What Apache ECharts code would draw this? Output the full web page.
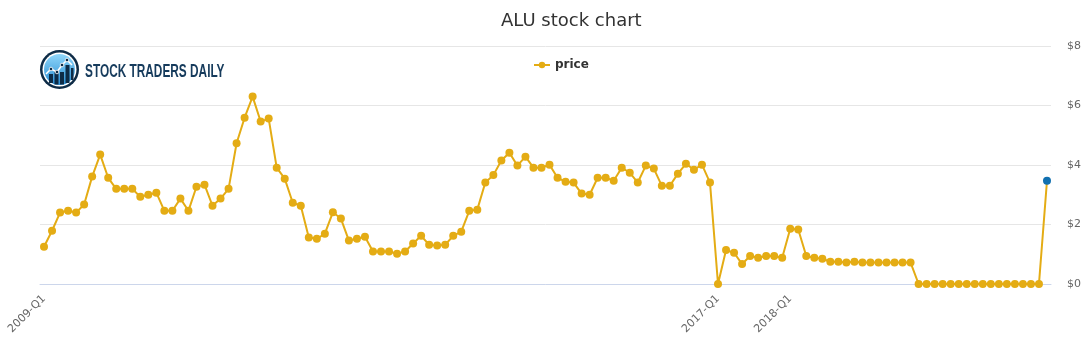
<!DOCTYPE html>
<html>
<head>
<meta charset="utf-8">
<script src="https://cdn.jsdelivr.net/npm/echarts@6/dist/echarts.min.js"></script>
<style>
html,body{margin:0;padding:0;background:#fff;}
#chart{width:1091px;height:350px;}
</style>
</head>
<body>
<div id="chart"></div>
<script>
// price series (USD), one value per period
const price = [
  1.25, 1.79, 2.40, 2.46, 2.40, 2.67, 3.61, 4.35, 3.57, 3.20,
  3.20, 3.20, 2.93, 3.00, 3.07, 2.46, 2.46, 2.87, 2.46, 3.27,
  3.34, 2.63, 2.87, 3.20, 4.73, 5.59, 6.30, 5.46, 5.56, 3.91,
  3.54, 2.73, 2.63,
  1.56, 1.52, 1.69, 2.41, 2.20, 1.46, 1.52, 1.59, 1.09, 1.09,
  1.09, 1.02, 1.09, 1.36, 1.62, 1.32, 1.29, 1.32, 1.62, 1.76,
  2.46, 2.50, 3.41, 3.66, 4.15, 4.41, 3.98, 4.28, 3.91, 3.91,
  4.01, 3.57, 3.44, 3.41, 3.04, 3.00, 3.57, 3.57, 3.47, 3.91,
  3.74, 3.41, 3.98, 3.88, 3.30, 3.30, 3.71, 4.04, 3.84, 4.01,
  3.41,
  0, 1.14, 1.05, 0.67, 0.94, 0.88, 0.94, 0.94, 0.88, 1.86,
  1.83, 0.94, 0.88, 0.85, 0.75, 0.75, 0.72, 0.75, 0.72, 0.72,
  0.72, 0.72, 0.72, 0.72, 0.72,
  0, 0, 0, 0, 0, 0, 0, 0, 0, 0, 0, 0, 0, 0, 0, 0,
  3.47
];
// labelled x ticks and the period index they sit on
const tickLabels = ['2009-Q1', '2017-Q1', '2018-Q1'];
const tickIndex = [0, 84, 93];
// y axis ticks
const yTicks = [0, 2, 4, 6, 8];

const categories = price.map((_, i) => {
  const k = tickIndex.indexOf(i);
  return k >= 0 ? tickLabels[k] : 'p' + i;
});

const lineColor = '#e4ac14';
const lastColor = '#1170b0';
const seriesData = price.map((v, i) => i === price.length - 1
  ? { value: v, itemStyle: { color: lastColor } }
  : v);

const chart = echarts.init(document.getElementById('chart'), null, { renderer: 'canvas' });

const logo = {
  type: 'group',
  left: 40, top: 50,
  children: [
    { type: 'circle', shape: { cx: 19.5, cy: 19.5, r: 19.5 }, style: { fill: '#0d2b46' } },
    { type: 'circle', shape: { cx: 19.5, cy: 19.5, r: 17 }, style: { fill: '#ffffff' } },
    { type: 'circle', shape: { cx: 19.5, cy: 19.5, r: 15.5 },
      style: { fill: new echarts.graphic.LinearGradient(0, 0, 0, 1, [
        { offset: 0, color: '#8fd6fa' }, { offset: 1, color: '#2a8ed3' }]) } },
    { type: 'rect', shape: { x: 9, y: 24, width: 4, height: 9 }, style: { fill: '#0d2b46' } },
    { type: 'rect', shape: { x: 14.5, y: 20, width: 4, height: 14.5 }, style: { fill: '#0d2b46' } },
    { type: 'rect', shape: { x: 20, y: 22, width: 4, height: 12.5 }, style: { fill: '#0d2b46' } },
    { type: 'rect', shape: { x: 25.5, y: 15, width: 4, height: 18 }, style: { fill: '#0d2b46' } },
    { type: 'rect', shape: { x: 31, y: 18, width: 2.5, height: 12 }, style: { fill: '#0d2b46' } },
    { type: 'polyline', shape: { points: [[6, 24], [11, 19], [17, 22], [22, 15], [27, 10], [32, 15]] },
      style: { stroke: '#ffffff', lineWidth: 1.5, fill: null } },
    { type: 'circle', shape: { cx: 11, cy: 19, r: 1.8 }, style: { fill: '#0d2b46', stroke: '#fff', lineWidth: 0.8 } },
    { type: 'circle', shape: { cx: 17, cy: 22, r: 1.8 }, style: { fill: '#0d2b46', stroke: '#fff', lineWidth: 0.8 } },
    { type: 'circle', shape: { cx: 22, cy: 15, r: 1.8 }, style: { fill: '#0d2b46', stroke: '#fff', lineWidth: 0.8 } },
    { type: 'circle', shape: { cx: 27, cy: 10, r: 1.8 }, style: { fill: '#0d2b46', stroke: '#fff', lineWidth: 0.8 } }
  ]
};

const logoText = {
  type: 'text',
  x: 85, y: 71.5,
  scaleX: 0.64,
  originX: 0,
  style: {
    text: 'STOCK TRADERS DAILY',
    font: 'bold 18.5px "Liberation Sans", Arial, sans-serif',
    fill: '#163b5c',
    verticalAlign: 'middle'
  }
};

chart.setOption({
  animation: false,
  textStyle: { fontFamily: '"DejaVu Sans", sans-serif' },
  title: {
    text: 'ALU stock chart',
    left: 501, top: 12,
    padding: 0,
    textStyle: { fontFamily: '"DejaVu Sans", sans-serif', fontSize: 18, fontWeight: 'normal', color: '#333333' }
  },
  legend: {
    left: 533, top: 59,
    padding: 0,
    itemWidth: 16, itemHeight: 8,
    data: ['price'],
    textStyle: { fontFamily: '"DejaVu Sans", sans-serif', fontSize: 12, fontWeight: 'bold', color: '#333333' }
  },
  graphic: [logo, logoText],
  grid: { left: 40, right: 40, top: 46, bottom: 66, containLabel: false },
  xAxis: {
    type: 'category',
    data: categories,
    boundaryGap: true,
    axisLine: { lineStyle: { color: '#ccd6eb', width: 1 } },
    axisTick: { show: false },
    axisLabel: {
      interval: (i) => tickIndex.includes(i),
      rotate: 45,
      margin: 13,
      fontSize: 11,
      color: '#666666',
      fontFamily: '"DejaVu Sans", sans-serif'
    },
    splitLine: { show: false }
  },
  yAxis: {
    type: 'value',
    position: 'right',
    min: yTicks[0], max: yTicks[yTicks.length - 1], interval: 2,
    axisLine: { show: false },
    axisTick: { show: false },
    axisLabel: {
      formatter: (v) => '$' + v,
      margin: 16,
      fontSize: 11,
      color: '#666666',
      fontFamily: '"DejaVu Sans", sans-serif'
    },
    splitLine: { lineStyle: { color: '#e6e6e6', width: 1 } }
  },
  series: [{
    name: 'price',
    type: 'line',
    data: seriesData,
    symbol: 'circle',
    symbolSize: 8,
    showAllSymbol: true,
    color: lineColor,
    lineStyle: { color: lineColor, width: 2 },
    itemStyle: { color: lineColor },
    emphasis: { disabled: true }
  }]
});
</script>
</body>
</html>
